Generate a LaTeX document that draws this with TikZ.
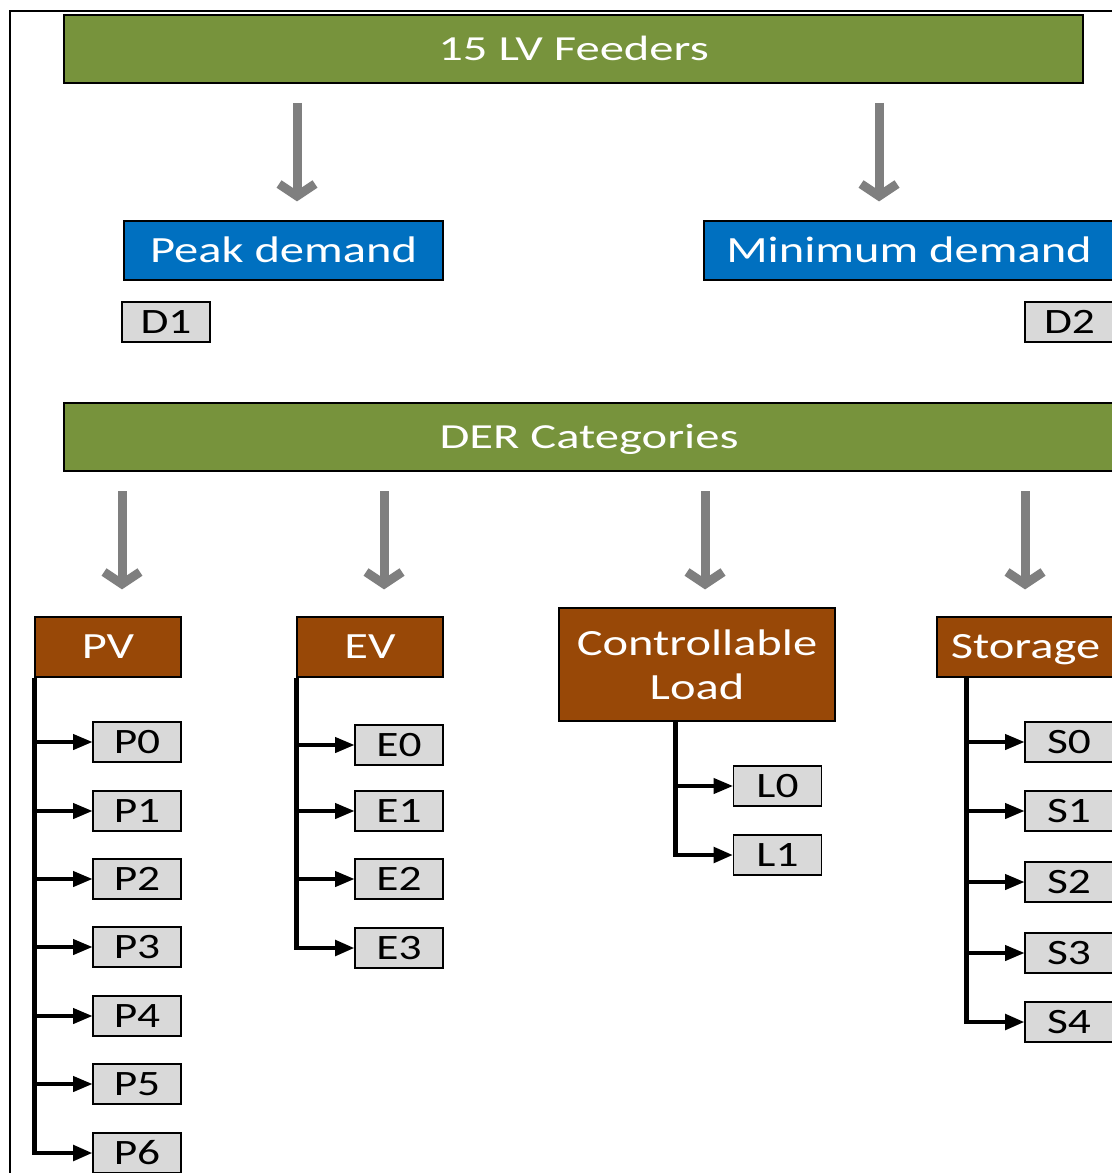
\documentclass[tikz,border=0pt]{standalone}
\usepackage{fontspec}
\newfontfamily\titlefont[FakeStretch=1.38]{Carlito}
\newfontfamily\boxfont[FakeStretch=1.31]{Carlito}
\newfontfamily\leaffont[FakeStretch=1.27]{Carlito}
\usetikzlibrary{arrows.meta,calc}
\definecolor{dgreen}{HTML}{77933C}
\definecolor{dblue}{HTML}{0070C0}
\definecolor{dbrown}{HTML}{984807}
\definecolor{lgray}{HTML}{D9D9D9}
\definecolor{agray}{HTML}{7F7F7F}
\tikzset{
  base/.style={draw=black, line width=0.9pt, inner sep=0pt, align=center},
  titlebox/.style={base, text height=17pt, text depth=0pt, fill=dgreen, text=white, minimum height=51pt,
    font=\titlefont\fontsize{26.4}{31.7}\selectfont},
  bluebox/.style={base, text height=17.9pt, text depth=0pt, fill=dblue, text=white, minimum height=44.25pt,
    font=\boxfont\fontsize{27.75}{33.3}\selectfont},
  catbox/.style={base, fill=dbrown, text=white,
    font=\boxfont\fontsize{27.75}{33.3}\selectfont},
  catone/.style={catbox, text height=17.9pt, text depth=0pt, minimum height=45pt},
  leaf/.style={base, text height=17.2pt, text depth=0pt, fill=lgray, text=black, minimum width=66pt, minimum height=30pt,
    font=\leaffont\fontsize{26.8}{32}\selectfont},
  garrow/.style={draw=agray, line width=6.75pt, line join=miter},
  trunk/.style={draw=black, line width=3.2pt, -{Triangle[length=14.5pt,width=11.5pt]}},
  branch/.style={draw=black, line width=2.4pt, -{Triangle[length=14.5pt,width=11.5pt]}},
}
\begin{document}
\begin{tikzpicture}[x=0.75pt,y=-0.75pt]
\useasboundingbox (0,0) rectangle (1112,1173);
\begin{scope}
\clip (0,0) rectangle (1112,1173);
\draw[line width=1.5pt] (10,11) rectangle (1140,1200);

% top level
\node[titlebox, minimum width=764.25pt] (feed) at (573.5,49) {15 LV Feeders};
\node[bluebox, minimum width=239.25pt] (peak) at (283.5,250.5) {Peak demand};
\node[bluebox, minimum width=307.5pt] (mind) at (909,250.5) {Minimum demand};
\node[leaf] (d1) at (166,322) {D1};
\node[leaf, minimum width=66.75pt] (d2) at (1069.5,322) {D2};

\node[titlebox, minimum width=787.5pt] (der) at (589,437) {DER Categories};

% categories
\node[catone, minimum width=109.5pt] (pv) at (108,647) {PV};
\node[catone, minimum width=109.5pt] (ev) at (370,647) {EV};
\node[catbox, minimum width=207pt, minimum height=84.75pt] (load) at (697,664.5) {Controllable\\Load};
\node[catone, minimum width=132.75pt] (sto) at (1025.5,647) {Storage};

% gray arrows
\foreach \x/\n in {297/a, 879/b} {
  \coordinate (\n s) at (\x,103);
  \coordinate (\n t) at (\x,196);
  \draw[garrow] (\n s) -- (\n t);
  \draw[garrow] ($(\n t)+(-18,-12)$) -- (\n t) -- ($(\n t)+(18,-12)$);
}
\foreach \x/\n in {122/c, 384/d, 705/e, 1025/f} {
  \coordinate (\n s) at (\x,491);
  \coordinate (\n t) at (\x,584);
  \draw[garrow] (\n s) -- (\n t);
  \draw[garrow] ($(\n t)+(-18,-12)$) -- (\n t) -- ($(\n t)+(18,-12)$);
}

% PV leaves
\foreach \i/\y in {0/742, 1/811, 2/879, 3/947, 4/1016, 5/1084, 6/1153} {
  \node[leaf] (p\i) at (137,\y) {P\i};
}
\draw[trunk] (pv.south west) |- (p6.west);
\foreach \i in {0,...,5} { \draw[branch] (pv.south west |- p\i.west) -- (p\i.west); }

% EV leaves
\foreach \i/\y in {0/745, 1/811, 2/879, 3/948} {
  \node[leaf] (e\i) at (399,\y) {E\i};
}
\draw[trunk] (ev.south west) |- (e3.west);
\foreach \i in {0,...,2} { \draw[branch] (ev.south west |- e\i.west) -- (e\i.west); }

% Load leaves
\node[leaf] (l0) at (777.5,786) {L0};
\node[leaf] (l1) at (777.5,855) {L1};
\coordinate (lt) at ($(load.south west)+(117,0)$);
\draw[trunk] (lt) |- (l1.west);
\draw[branch] (lt |- l0.west) -- (l0.west);

% Storage leaves
\foreach \i/\y in {0/742, 1/811, 2/882, 3/953, 4/1022} {
  \node[leaf] (s\i) at (1069,\y) {S\i};
}
\coordinate (st) at ($(sto.south west)+(30,0)$);
\draw[trunk] (st) |- (s4.west);
\foreach \i in {0,...,3} { \draw[branch] (st |- s\i.west) -- (s\i.west); }
\end{scope}
\end{tikzpicture}
\end{document}
